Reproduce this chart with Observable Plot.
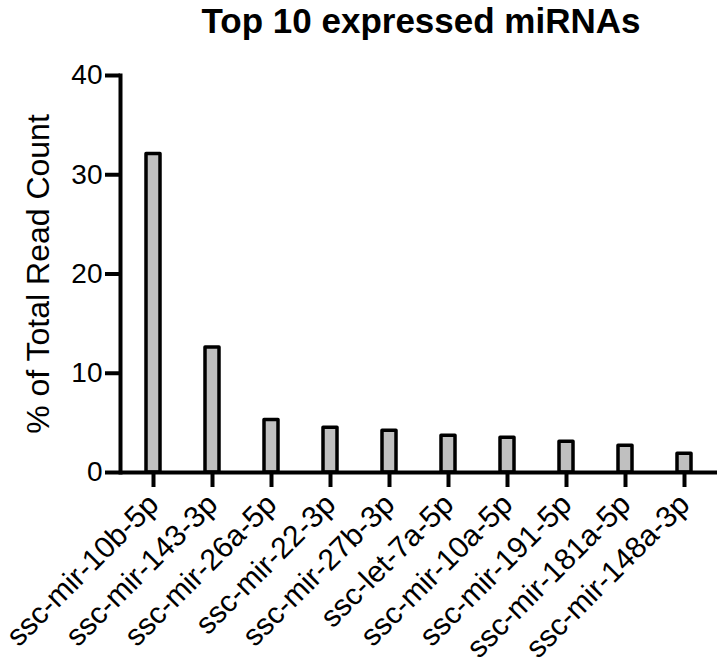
<!DOCTYPE html>
<html><head><meta charset="utf-8">
<script src="https://cdn.jsdelivr.net/npm/d3@7"></script>
<script src="https://cdn.jsdelivr.net/npm/@observablehq/plot@0.6"></script>
<style>body{margin:0;background:#fff;font-family:"Liberation Sans",Arial,sans-serif}</style>
</head><body><div id="chart"></div>
<script>
const title = "Top 10 expressed miRNAs";
const yLabel = "% of Total Read Count";
const mirnas = ["ssc-mir-10b-5p","ssc-mir-143-3p","ssc-mir-26a-5p","ssc-mir-22-3p","ssc-mir-27b-3p","ssc-let-7a-5p","ssc-mir-10a-5p","ssc-mir-191-5p","ssc-mir-181a-5p","ssc-mir-148a-3p"];
const percents = [32.1, 12.6, 5.3, 4.5, 4.2, 3.7, 3.5, 3.1, 2.7, 1.9];
const yTicks = [0, 10, 20, 30, 40];
const data = mirnas.map((name, i) => ({name, value: percents[i]}));
const chart = Plot.plot({
  width: 720, height: 666,
  marginLeft: 120, marginRight: 3, marginTop: 75, marginBottom: 194,
  style: {fontFamily: '"Liberation Sans", Arial, sans-serif', background: "white", color: "black"},
  x: {domain: mirnas, paddingInner: 0.757, paddingOuter: 0.378},
  y: {domain: [0, 40]},
  marks: [
    Plot.barY(data, {x: "name", y: "value", fill: "#c0c0c0", stroke: "black", strokeWidth: 3.5, strokeLinejoin: "round"}),
    Plot.ruleY([0], {strokeWidth: 4}),
    Plot.frame({anchor: "left", strokeWidth: 4}),
    Plot.axisY({ticks: yTicks, tickSize: 15, strokeWidth: 4, fontSize: 28, tickPadding: 3, label: null}),
    Plot.axisX({tickSize: 15, strokeWidth: 4, fontSize: 30, tickRotate: -45, tickPadding: 12, label: null}),
    Plot.text([yLabel], {text: d => d, frameAnchor: "left", textAnchor: "middle", lineAnchor: "middle", rotate: -90, dx: -82, fontSize: 32}),
    Plot.text([title], {text: d => d, frameAnchor: "top", textAnchor: "middle", dx: 2, dy: -43, lineAnchor: "bottom", fontSize: 35, fontWeight: "bold", ariaLabel: "chart-title"})
  ]
});
d3.select(chart).selectAll('g[aria-label="chart-title"] text').style("letter-spacing", "1px");
document.getElementById("chart").appendChild(chart);
</script>
</body></html>
